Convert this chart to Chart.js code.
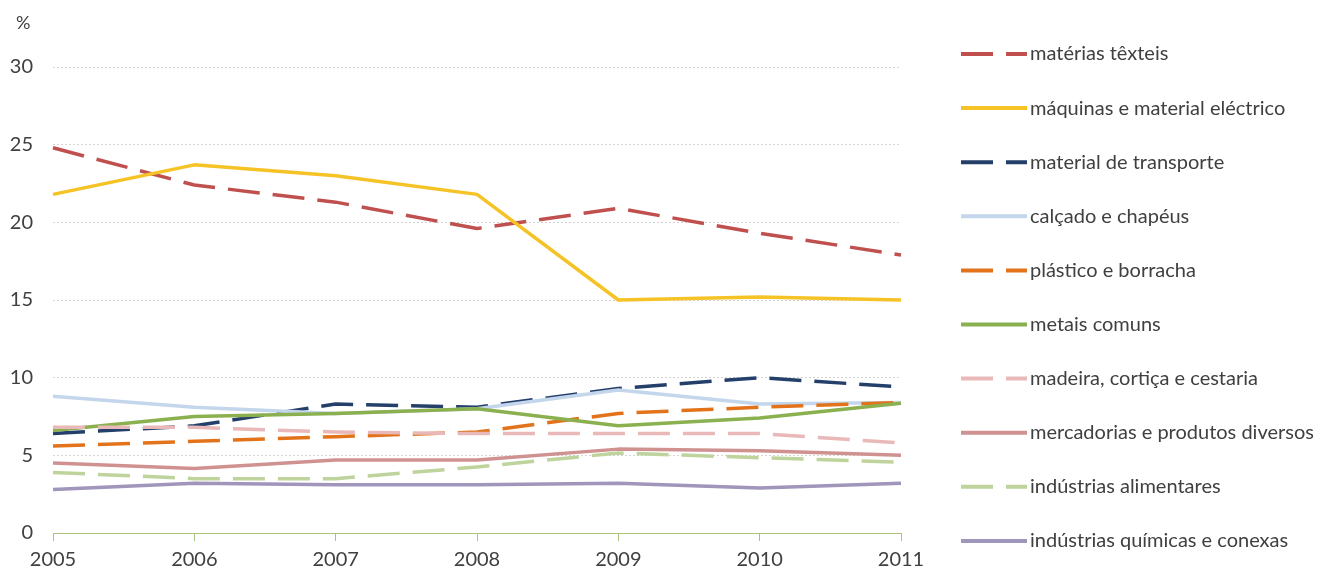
<!DOCTYPE html>
<html>
<head>
<meta charset="utf-8">
<script src="https://cdn.jsdelivr.net/npm/chart.js@4"></script>
<style>
  body { margin: 0; background: #fff; }
  canvas { display: block; }
</style>
</head>
<body>
<canvas id="grafico" width="1320" height="569"></canvas>
<script>
// anos e séries (% do total)
const anos = ['2005', '2006', '2007', '2008', '2009', '2010', '2011'];

const texteis     = [24.8, 22.4, 21.3, 19.6, 20.9, 19.3, 17.9];
const maquinas    = [21.8, 23.7, 23.0, 21.8, 15.0, 15.2, 15.0];
const transporte  = [6.4, 6.9, 8.3, 8.1, 9.3, 10.0, 9.4];
const calcado     = [8.8, 8.1, 7.7, 8.0, 9.2, 8.3, 8.4];
const plastico    = [5.6, 5.9, 6.2, 6.5, 7.7, 8.1, 8.4];
const metais      = [6.6, 7.5, 7.7, 8.0, 6.9, 7.4, 8.35];
const madeira     = [6.8, 6.8, 6.5, 6.4, 6.4, 6.4, 5.8];
const mercadorias = [4.5, 4.15, 4.7, 4.7, 5.4, 5.3, 5.0];
const alimentares = [3.9, 3.5, 3.5, 4.25, 5.15, 4.85, 4.55];
const quimicas    = [2.8, 3.2, 3.1, 3.1, 3.2, 2.9, 3.2];

const yTicks = [0, 5, 10, 15, 20, 25, 30];

const TRACO = [32, 13];
const FONTE = 'Lato, "Open Sans", sans-serif';

function serie(label, data, cor, tracejado) {
  return {
    label, data,
    borderColor: cor,
    backgroundColor: cor,
    borderWidth: 3.5,
    borderDash: tracejado ? TRACO : [],
    borderCapStyle: 'butt',
    borderJoinStyle: 'round',
    pointRadius: 0,
    tension: 0,
    fill: false
  };
}

const datasets = [
  serie('matérias têxteis', texteis, '#bf504e', true),
  serie('máquinas e material eléctrico', maquinas, '#f5c325', false),
  serie('material de transporte', transporte, '#233f6a', true),
  serie('calçado e chapéus', calcado, '#c4d6eb', false),
  serie('plástico e borracha', plastico, '#e3731a', true),
  serie('metais comuns', metais, '#8ab04f', false),
  serie('madeira, cortiça e cestaria', madeira, '#e8b9b8', true),
  serie('mercadorias e produtos diversos', mercadorias, '#cf9291', false),
  serie('indústrias alimentares', alimentares, '#bfd49c', true),
  serie('indústrias químicas e conexas', quimicas, '#a095bb', false)
];
// séries posteriores desenhadas por cima (como no Excel)
datasets.forEach((d, i) => { d.order = datasets.length - i; });

// legenda à direita + unidade "%"
const legendaLateral = {
  id: 'legendaLateral',
  afterDraw(chart) {
    const ctx = chart.ctx;
    ctx.save();
    ctx.textBaseline = 'middle';
    ctx.textAlign = 'left';
    ctx.fillStyle = '#404040';
    ctx.font = '18px ' + FONTE;
    ctx.fillText('%', 16, 23);

    ctx.font = '20px ' + FONTE;
    chart.data.datasets.forEach((ds, i) => {
      const y = 54 + i * 54.1;
      ctx.strokeStyle = ds.borderColor;
      ctx.lineWidth = 4;
      ctx.lineCap = 'butt';
      ctx.setLineDash(ds.borderDash || []);
      ctx.beginPath();
      ctx.moveTo(961, y);
      ctx.lineTo(1027, y);
      ctx.stroke();
      ctx.setLineDash([]);
      ctx.fillText(ds.label, 1030, y);
    });
    ctx.restore();
  }
};

new Chart(document.getElementById('grafico').getContext('2d'), {
  type: 'line',
  data: { labels: anos, datasets },
  plugins: [legendaLateral],
  options: {
    responsive: false,
    animation: false,
    layout: { padding: { top: 67, right: 419, left: 0, bottom: 0 } },
    plugins: { legend: { display: false }, tooltip: { enabled: false } },
    scales: {
      x: {
        offset: false,
        grid: { display: true, drawOnChartArea: false, drawTicks: true, tickLength: 8, color: '#a9c27d' },
        border: { display: true, color: '#a9c27d', width: 1 },
        ticks: { color: '#404040', font: { family: FONTE, size: 20 }, padding: 7, maxRotation: 0 },
        afterFit(scale) { scale.height = 36; }
      },
      y: {
        min: 0, max: 30,
        afterBuildTicks(scale) { scale.ticks = yTicks.map(v => ({ value: v })); },
        grid: {
          drawTicks: false,
          color: c => (c.tick && c.tick.value === 0) ? 'rgba(0,0,0,0)' : '#d4d4d4'
        },
        border: { display: false, dash: [2, 2] },
        ticks: { color: '#404040', font: { family: FONTE, size: 20 }, padding: 20 },
        afterFit(scale) { scale.width = 53; }
      }
    }
  }
});
</script>
</body>
</html>
